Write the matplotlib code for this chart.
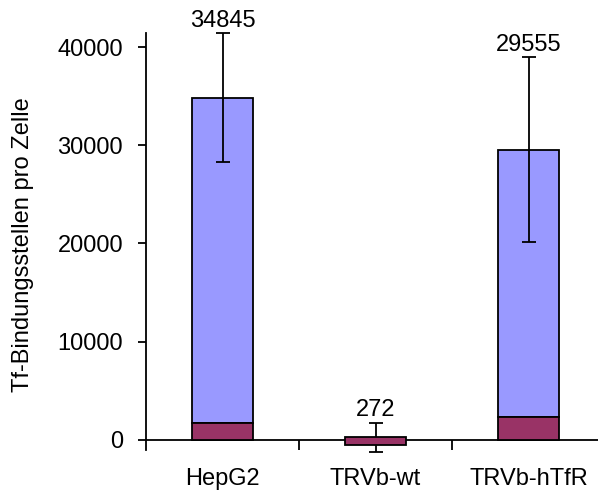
import numpy as np
import matplotlib
matplotlib.use("Agg")
import matplotlib.pyplot as plt

plt.rcParams['font.family'] = ['Liberation Sans', 'DejaVu Sans']

# data
categories = ['HepG2', 'TRVb-wt', 'TRVb-hTfR']
totals = [34845, 272, 29555]
errors = [6580, 1500, 9400]
nonspec_top = [1730, 300, 2340]
nonspec_bottom = [0, -500, 0]

yticks = [0, 10000, 20000, 30000, 40000]

BLUE = '#9999FF'
MAROON = '#993366'
LW = 1.3

fig = plt.figure(figsize=(5.98, 4.9), dpi=100)
# x range runs a little past the right edge of the picture, like the original
ax = fig.add_axes([146 / 598, 40 / 490, 459 / 598, 417 / 490])

x = np.arange(len(categories))
tot = np.array(totals, dtype=float)
low_top = np.array(nonspec_top, dtype=float)
low_bot = np.array(nonspec_bottom, dtype=float)
w = 0.4

# upper (light blue) segment
upper = tot - low_top
mask = upper > 0
ax.bar(x[mask], upper[mask], bottom=low_top[mask], width=w, color=BLUE,
       edgecolor='black', linewidth=LW, zorder=2)

# error bars (not clipped: the wt one pokes below the axis end)
eb = ax.errorbar(x, tot, yerr=errors, fmt='none', ecolor='black', elinewidth=LW,
                 capsize=5, capthick=LW, zorder=3)
for art in eb.lines[1] + eb.lines[2]:
    art.set_clip_on(False)

# lower (maroon) segment
ax.bar(x, low_top - low_bot, bottom=low_bot, width=w, color=MAROON,
       edgecolor='black', linewidth=LW, zorder=4)

# value labels above the error bars
for xi, t, e in zip(x, totals, errors):
    ax.annotate(str(t), (xi, t + e), xytext=(0, 4.5), textcoords='offset points',
                ha='center', va='baseline', fontsize=17)

ax.set_xlim(-0.5, 2.5)
ax.set_ylim(-1018, 41425)

for s in ['top', 'right']:
    ax.spines[s].set_visible(False)
ax.spines['bottom'].set_position(('data', 0))
ax.spines['left'].set_linewidth(LW)
ax.spines['bottom'].set_linewidth(LW)

ax.set_yticks(yticks)
ax.set_yticklabels([str(v) for v in yticks])
ax.tick_params(axis='y', direction='out', length=6, width=LW, pad=10.5,
               labelsize=17)

# category boundary ticks (major), labels on minor ticks
ax.set_xticks([0.5, 1.5])
ax.set_xticklabels([])
ax.set_xticks(x, minor=True)
ax.set_xticklabels(categories, minor=True)
ax.tick_params(axis='x', which='major', direction='out', length=7.5, width=LW)
ax.tick_params(axis='x', which='minor', length=0, pad=20, labelsize=17)

ax.set_ylabel('Tf-Bindungsstellen pro Zelle', fontsize=17)
ax.yaxis.set_label_coords(-(146 - 34) / 459, (440 - 245) / 417 + 10 / 417)

fig.savefig('out.png', dpi=100)
